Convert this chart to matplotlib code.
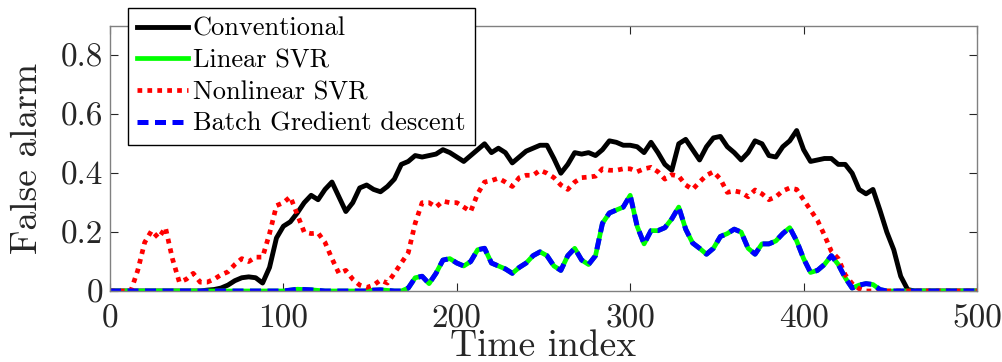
import numpy as np
import matplotlib
matplotlib.use("Agg")
import matplotlib.pyplot as plt

plt.rcParams['font.family'] = ['cmr10', 'DejaVu Serif']
plt.rcParams['mathtext.fontset'] = 'cm'
plt.rcParams['axes.formatter.use_mathtext'] = True

time_index = np.arange(0, 501, 4)

conventional = [
    0, 0, 0, 0, 0, 0, 0, 0, 0, 0, 0, 0, 0, 0, 0.003, 0.005,          # 0-60
    0.01, 0.02, 0.035, 0.045, 0.048, 0.045, 0.027, 0.08, 0.18, 0.22,  # 64-100
    0.235, 0.265, 0.30, 0.325, 0.31, 0.345, 0.37, 0.32, 0.27, 0.30,   # 104-140
    0.35, 0.36, 0.345, 0.337, 0.355, 0.38, 0.43, 0.44, 0.46, 0.455,   # 144-180
    0.46, 0.465, 0.48, 0.47, 0.455, 0.44, 0.46, 0.48, 0.50, 0.47,     # 184-220
    0.485, 0.47, 0.435, 0.455, 0.475, 0.485, 0.495, 0.495, 0.45, 0.40,  # 224-260
    0.43, 0.47, 0.465, 0.47, 0.46, 0.48, 0.51, 0.505, 0.495, 0.495,   # 264-300
    0.49, 0.47, 0.505, 0.47, 0.43, 0.41, 0.50, 0.515, 0.48, 0.445,    # 304-340
    0.49, 0.52, 0.525, 0.49, 0.47, 0.445, 0.47, 0.51, 0.50, 0.46,     # 344-380
    0.455, 0.49, 0.51, 0.545, 0.48, 0.44, 0.445, 0.45, 0.45, 0.43,    # 384-420
    0.43, 0.40, 0.345, 0.33, 0.345, 0.275, 0.20, 0.14, 0.05, 0.005,   # 424-460
    0, 0, 0, 0, 0, 0, 0, 0, 0, 0,                                     # 464-500
]

nonlinear_svr = [
    0, 0, 0, 0, 0.07, 0.165, 0.205, 0.18, 0.215, 0.11, 0.03,          # 0-40
    0.04, 0.06, 0.03, 0.03, 0.04, 0.055, 0.065, 0.09, 0.11, 0.10,     # 44-80
    0.115, 0.115, 0.195, 0.29, 0.30, 0.32, 0.26, 0.20, 0.195, 0.197,  # 84-120
    0.165, 0.11, 0.06, 0.07, 0.04, 0.02, 0.012, 0.02, 0.037, 0.027,   # 124-160
    0.06, 0.095, 0.13, 0.23, 0.30, 0.30, 0.285, 0.305, 0.30, 0.30,    # 164-200
    0.285, 0.27, 0.33, 0.37, 0.375, 0.383, 0.37, 0.355, 0.385, 0.393,  # 204-240
    0.393, 0.41, 0.40, 0.385, 0.36, 0.345, 0.37, 0.385, 0.387, 0.39,  # 244-280
    0.415, 0.41, 0.41, 0.415, 0.415, 0.405, 0.415, 0.42, 0.405, 0.38,  # 284-320
    0.395, 0.39, 0.36, 0.345, 0.37, 0.393, 0.405, 0.38, 0.335, 0.34,  # 324-360
    0.335, 0.32, 0.343, 0.33, 0.31, 0.32, 0.34, 0.35, 0.345, 0.31,    # 364-400
    0.275, 0.24, 0.19, 0.135, 0.11, 0.055, 0.025, 0.008, 0, 0,        # 404-440
    0, 0, 0, 0, 0, 0, 0, 0, 0, 0,                                     # 444-480
    0, 0, 0, 0, 0,                                                    # 484-500
]

linear_svr = [
    0, 0, 0, 0, 0, 0, 0, 0, 0, 0,                                     # 0-36
    0, 0, 0, 0, 0, 0, 0, 0, 0, 0,                                     # 40-76
    0, 0, 0, 0, 0, 0,                                                 # 80-100
    0.003, 0.006, 0.005, 0.004, 0.002, 0, 0, 0, 0, 0, 0, 0,           # 104-148
    0.003, 0.004, 0.002, 0, 0, 0.01, 0.045, 0.05, 0.025, 0.06,        # 152-188
    0.105, 0.11, 0.095, 0.085, 0.10, 0.14, 0.145, 0.095, 0.085, 0.075,  # 192-228
    0.06, 0.08, 0.095, 0.12, 0.133, 0.12, 0.085, 0.07, 0.12, 0.145,   # 232-268
    0.105, 0.09, 0.12, 0.23, 0.265, 0.275, 0.285, 0.325, 0.22, 0.16,  # 272-308
    0.205, 0.205, 0.215, 0.245, 0.285, 0.21, 0.163, 0.145, 0.125, 0.145,  # 312-348
    0.185, 0.195, 0.21, 0.20, 0.145, 0.125, 0.16, 0.16, 0.17, 0.195,  # 352-388
    0.215, 0.17, 0.11, 0.063, 0.07, 0.09, 0.12, 0.09, 0.045, 0.01,    # 392-428
    0.02, 0.025, 0.022, 0.005, 0, 0, 0, 0, 0, 0,                      # 432-468
    0, 0, 0, 0, 0, 0, 0, 0,                                           # 472-500
]

batch_gd = list(linear_svr)

labels = ["Conventional", "Linear SVR", "Nonlinear SVR", "Batch Gredient descent"]
x_ticks = [0, 100, 200, 300, 400, 500]
y_ticks = [0, 0.2, 0.4, 0.6, 0.8]

fig = plt.figure(figsize=(10.03, 3.62), dpi=100)
ax = fig.add_axes([110 / 1003, 1 - 291 / 362, 867 / 1003, 265 / 362])

ax.plot(time_index, conventional, color="black", lw=3.5, label=labels[0],
        solid_joinstyle="round")
ax.plot(time_index, linear_svr, color="#00ff00", lw=3.4, label=labels[1])
ax.plot(time_index, nonlinear_svr, color="#ff0000", lw=3.4,
        linestyle=(0, (1, 1.1)), label=labels[2])
ax.plot(time_index, batch_gd, color="#0000ff", lw=3.6,
        linestyle=(0, (2.2, 1.3)), label=labels[3])

ax.set_xlim(0, 500)
ax.set_ylim(0, 0.9)
ax.set_xticks(x_ticks)
ax.set_yticks(y_ticks)
ax.set_xticklabels([str(v) for v in x_ticks])
ax.set_yticklabels(["0", "0.2", "0.4", "0.6", "0.8"])

for s in ax.spines.values():
    s.set_color("#808080")
    s.set_linewidth(1.0)
ax.tick_params(direction="in", length=6, width=0.8, color="#262626",
               labelcolor="#262626", labelsize=24, top=True, right=True)
ax.tick_params(axis="x", pad=10)
ax.tick_params(axis="y", pad=5)

ax.set_xlabel("Time index", fontsize=27, color="#262626", labelpad=-3)
ax.set_ylabel("False alarm", fontsize=27, color="#262626", labelpad=12)

leg = ax.legend(loc="upper left", bbox_to_anchor=(0.021, 1.068),
                fontsize=19, frameon=True, fancybox=False, framealpha=1,
                edgecolor="black", handlelength=1.9, handletextpad=0.2,
                borderpad=0.35, labelspacing=0.3, borderaxespad=0)
leg.get_frame().set_linewidth(1.0)

fig.savefig("out.png", dpi=100)
